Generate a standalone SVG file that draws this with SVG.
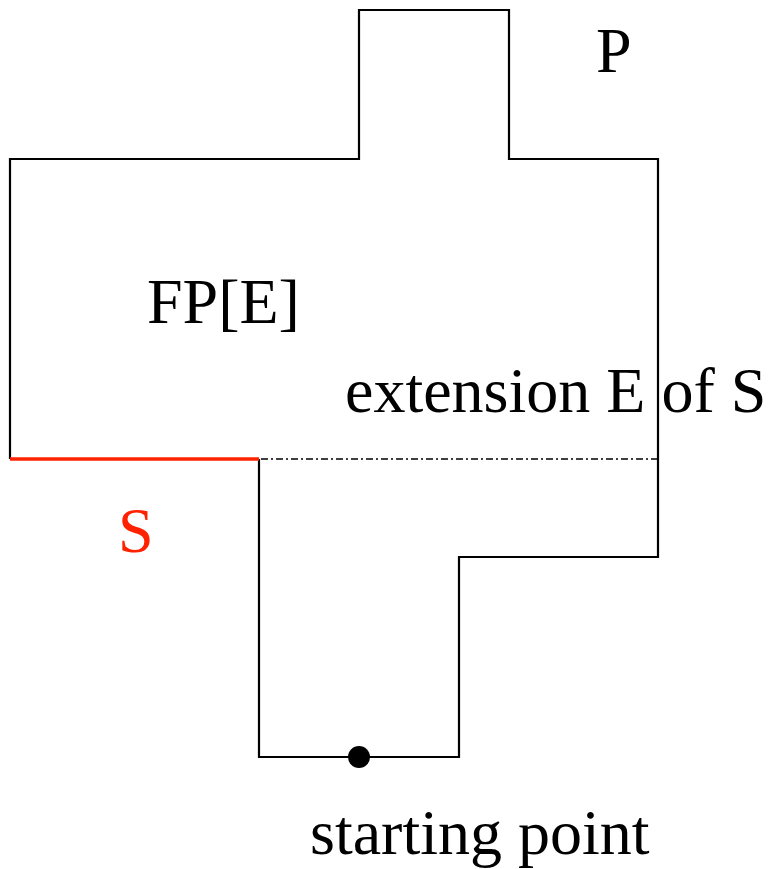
<svg xmlns="http://www.w3.org/2000/svg" width="769" height="869" viewBox="0 0 769 869">
<style>
.outline{fill:none;stroke:#000;stroke-width:2.2;stroke-linejoin:miter}
.red{stroke:#ff2200;stroke-width:3.5;fill:none}
.ext{stroke:#000;stroke-width:1.6;stroke-dasharray:7 3 2 3;fill:none}
.lbl{font-family:"Liberation Serif","Times New Roman",serif;font-size:64px;fill:#000}
</style>
<g id="polygon-P">
<polyline class="outline" points="259,459 259,757 459,757 459,557 658,557 658,159 509,159 509,10 359,10 359,159 10,159 10,459"/>
</g>
<g id="connectors">
<line id="segment-S" class="red" x1="10" y1="459" x2="259" y2="459"/>
<line id="extension-E" class="ext" x1="261" y1="459" x2="657" y2="459"/>
</g>
<g id="start-point">
<circle cx="359" cy="757" r="11" fill="#000"/>
</g>
<g id="labels">
<text class="lbl" x="596" y="72">P</text>
<text class="lbl" x="147" y="323">FP[E]</text>
<text class="lbl" x="345" y="412">extension E of S</text>
<text class="lbl" x="118" y="552" style="fill:#ff2200">S</text>
<text class="lbl" x="310" y="854">starting point</text>
</g>
</svg>
